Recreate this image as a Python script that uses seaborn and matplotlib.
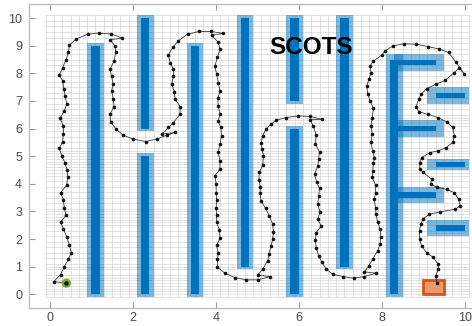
import numpy as np
import pandas as pd
import matplotlib
matplotlib.use("Agg")
import matplotlib.pyplot as plt
from matplotlib.patches import Rectangle
import seaborn as sns

# ---------------- data ----------------
# obstacles: x_lo, x_hi, y_lo, y_hi
obs_xlo = [1.0, 2.2, 2.2, 3.4, 4.6, 5.8, 5.8, 7.0, 8.2, 8.4, 9.3, 8.4, 9.3, 8.4, 9.3]
obs_xhi = [1.2, 2.4, 2.4, 3.6, 4.8, 6.0, 6.0, 7.2, 8.4, 9.3, 10.0, 9.3, 10.0, 9.3, 10.0]
obs_ylo = [0.0, 0.0, 6.0, 0.0, 1.0, 0.0, 7.0, 1.0, 0.0, 8.3, 7.1, 5.9, 4.6, 3.5, 2.3]
obs_yhi = [9.0, 5.0, 10.0, 9.0, 10.0, 6.0, 10.0, 10.0, 8.5, 8.5, 7.3, 6.1, 4.8, 3.7, 2.5]

target_x = [9.0, 9.5]
target_y = [0.0, 0.5]
start_xy = [0.4, 0.4]
eta = 0.2

traj_x = [0.40, 0.10, 0.26, 0.35, 0.45, 0.52, 0.47, 0.41, 0.33, 0.26, 0.39, 0.35, 0.33, 0.26, 0.41,
          0.43, 0.42, 0.37, 0.29, 0.23, 0.31, 0.33, 0.33, 0.25, 0.35, 0.41, 0.37, 0.34, 0.31, 0.23,
          0.31, 0.39, 0.45, 0.47, 0.63, 0.91, 1.18, 1.48, 1.75, 1.45, 1.57, 1.59, 1.55, 1.45, 1.49,
          1.53, 1.49, 1.53, 1.55, 1.45, 1.47, 1.60, 1.77, 2.01, 2.31, 2.58, 2.82, 3.02, 2.71, 2.86,
          2.98, 3.14, 3.14, 3.02, 3.00, 2.94, 2.98, 2.98, 2.90, 2.86, 2.96, 3.10, 3.32, 3.60, 3.88,
          4.17, 3.90, 4.06, 4.10, 4.04, 3.98, 4.02, 4.06, 4.10, 4.05, 4.06, 4.10, 4.06, 4.12, 4.14,
          4.10, 4.06, 4.10, 4.10, 3.98, 4.01, 4.01, 4.02, 4.01, 4.02, 4.02, 4.09, 4.10, 4.02, 4.06,
          4.04, 4.04, 4.22, 4.47, 4.73, 5.01, 5.31, 5.01, 5.13, 5.25, 5.28, 5.33, 5.37, 5.39, 5.37,
          5.29, 5.20, 5.09, 5.07, 5.07, 5.04, 5.05, 5.13, 5.15, 5.12, 5.09, 5.13, 5.21, 5.33, 5.45,
          5.69, 5.99, 6.27, 6.56, 6.27, 6.35, 6.42, 6.40, 6.50, 6.48, 6.46, 6.38, 6.43, 6.50, 6.48,
          6.46, 6.51, 6.46, 6.54, 6.42, 6.40, 6.42, 6.48, 6.56, 6.66, 6.82, 7.06, 7.32, 7.58, 7.86,
          7.58, 7.69, 7.78, 7.90, 7.96, 7.98, 7.96, 7.90, 7.86, 7.85, 7.82, 7.85, 7.85, 7.77, 7.78,
          7.80, 7.82, 7.78, 7.74, 7.77, 7.74, 7.77, 7.80, 7.72, 7.66, 7.64, 7.69, 7.74, 7.72, 7.80,
          8.00, 8.08, 8.28, 8.54, 8.83, 9.12, 9.39, 9.61, 9.78, 9.99, 9.86, 9.75, 9.53, 9.31, 9.08,
          8.95, 8.89, 8.83, 8.89, 9.11, 9.35, 9.57, 9.71, 9.75, 9.71, 9.55, 9.35, 9.16, 8.96, 8.91,
          8.92, 9.00, 9.20, 9.18, 9.33, 9.57, 9.75, 9.85, 9.89, 9.77, 9.40, 9.15, 8.99, 8.94, 8.91,
          8.91, 8.96, 9.08, 9.24, 9.36, 9.36, 9.30, 9.33]
traj_y = [0.40, 0.46, 0.71, 0.99, 1.27, 1.50, 1.79, 2.08, 2.36, 2.60, 2.86, 3.14, 3.42, 3.68, 3.95,
          4.23, 4.49, 4.75, 5.01, 5.28, 5.53, 5.82, 6.08, 6.37, 6.64, 6.88, 7.18, 7.43, 7.73, 7.93,
          8.21, 8.49, 8.76, 9.02, 9.24, 9.42, 9.46, 9.43, 9.28, 9.22, 9.00, 8.76, 8.45, 8.15, 7.89,
          7.61, 7.37, 7.07, 6.80, 6.52, 6.24, 5.98, 5.76, 5.62, 5.53, 5.62, 5.76, 5.86, 5.80, 6.04,
          6.22, 6.52, 6.80, 7.07, 7.34, 7.61, 7.89, 8.15, 8.39, 8.67, 8.94, 9.18, 9.42, 9.52, 9.52,
          9.45, 9.38, 9.12, 8.88, 8.58, 8.27, 7.97, 7.67, 7.37, 7.10, 6.81, 6.53, 6.28, 6.04, 5.74,
          5.44, 5.14, 4.84, 4.53, 4.29, 3.99, 3.68, 3.42, 3.14, 2.88, 2.60, 2.32, 2.02, 1.78, 1.49,
          1.27, 0.99, 0.76, 0.60, 0.52, 0.52, 0.64, 0.69, 0.91, 1.21, 1.45, 1.73, 1.99, 2.26, 2.54,
          2.84, 3.11, 3.38, 3.65, 3.90, 4.14, 4.41, 4.67, 5.01, 5.25, 5.47, 5.74, 5.98, 6.16, 6.30,
          6.40, 6.46, 6.44, 6.34, 6.32, 6.10, 5.76, 5.43, 5.16, 4.89, 4.65, 4.35, 4.07, 3.83, 3.56,
          3.26, 2.98, 2.71, 2.47, 2.23, 1.97, 1.69, 1.39, 1.15, 0.91, 0.72, 0.64, 0.58, 0.64, 0.76,
          0.81, 1.03, 1.27, 1.57, 1.81, 2.09, 2.36, 2.62, 2.90, 3.14, 3.44, 3.68, 3.95, 4.23, 4.47,
          4.75, 4.95, 5.19, 5.50, 5.80, 6.10, 6.40, 6.73, 7.00, 7.25, 7.55, 7.79, 8.03, 8.27, 8.45,
          8.66, 8.82, 9.00, 9.07, 9.06, 8.97, 8.88, 8.76, 8.42, 7.98, 8.20, 8.03, 7.75, 7.61, 7.45,
          7.25, 7.07, 6.80, 6.61, 6.52, 6.40, 6.24, 6.04, 5.74, 5.50, 5.31, 5.19, 5.13, 4.95, 4.75,
          4.53, 4.41, 4.17, 3.99, 3.87, 3.80, 3.68, 3.44, 3.20, 3.08, 2.98, 2.90, 2.72, 2.54, 2.29,
          2.00, 1.75, 1.51, 1.33, 1.09, 0.90, 0.66, 0.42]

x_ticks = [0, 2, 4, 6, 8, 10]
y_ticks = list(range(0, 11))
title_text = "SCOTS"

# ---------------- style ----------------
sns.set_style("white")
plt.rcParams["font.family"] = ["Liberation Sans", "DejaVu Sans"]

DARK_BLUE = "#0072BD"
ORANGE = "#D95319"
GREEN = "#77AC30"

fig = plt.figure(figsize=(4.72, 3.26), dpi=100)
ax = fig.add_axes([29 / 472, 18 / 326, 456.5 / 472, 303.6 / 326])
ax.set_xlim(-0.5, 10.5)
ax.set_ylim(-0.5, 10.5)

# grid of cells
g_lo, g_hi = -0.1, 10.1
for k in range(0, 52):
    v = -0.1 + eta * k
    ax.plot([v, v], [g_lo, g_hi], color="#d4d4d4", lw=0.5, zorder=1)
    ax.plot([g_lo, g_hi], [v, v], color="#d4d4d4", lw=0.5, zorder=1)
extra_h = [0.0, 0.2, 0.4, 0.6, 1.0, 2.6, 2.8, 3.0, 4.4, 4.6, 4.8, 5.0, 5.2, 6.2, 6.4]
for v in extra_h:
    ax.plot([g_lo, g_hi], [v, v], color="#d4d4d4", lw=0.5, zorder=1)


def cell_cover(lo, hi):
    kmin = np.ceil((lo - eta / 2) / eta - 1e-6)
    kmax = np.floor((hi + eta / 2) / eta + 1e-6)
    return kmin * eta - eta / 2, kmax * eta + eta / 2


# obstacles
for xl, xh, yl, yh in zip(obs_xlo, obs_xhi, obs_ylo, obs_yhi):
    cx0, cx1 = cell_cover(xl, xh)
    cy0, cy1 = cell_cover(yl, yh)
    ax.add_patch(Rectangle((cx0, cy0), cx1 - cx0, cy1 - cy0, facecolor=DARK_BLUE,
                           alpha=0.5, edgecolor="none", zorder=2))
for xl, xh, yl, yh in zip(obs_xlo, obs_xhi, obs_ylo, obs_yhi):
    ax.add_patch(Rectangle((xl, yl), xh - xl, yh - yl, facecolor=DARK_BLUE,
                           edgecolor="none", zorder=3))

# target
ax.add_patch(Rectangle((target_x[0], target_y[0]), target_x[1] - target_x[0],
                       target_y[1] - target_y[0], facecolor="#EB9A70",
                       edgecolor=ORANGE, lw=2.0, zorder=3))

# trajectory
df = pd.DataFrame({"x": traj_x, "y": traj_y, "i": range(len(traj_x))})
sns.lineplot(data=df, x="x", y="y", sort=False, estimator=None, color="#3a3a3a",
             lw=0.6, marker="o", markersize=2.6, markeredgewidth=0,
             markerfacecolor="#111111", ax=ax, zorder=5)

# start
ax.scatter([start_xy[0]], [start_xy[1]], s=45, color=GREEN, zorder=6, edgecolors="none")
ax.scatter([start_xy[0]], [start_xy[1]], s=5, color="#111111", zorder=7)

ax.text(6.3, 8.95, title_text, fontsize=17.5, fontweight="bold", color="black",
        ha="center", va="center", zorder=8)

ax.set_xticks(x_ticks)
ax.set_yticks(y_ticks)
ax.set_xlabel("")
ax.set_ylabel("")
ax.tick_params(direction="in", length=4, width=0.8, color="#9a9a9a",
               labelcolor="#4a4a4a", labelsize=9, top=True, right=True,
               bottom=True, left=True, pad=5)
ax.tick_params(axis="x", pad=3)
for s in ax.spines.values():
    s.set_color("#bdbdbd")
    s.set_linewidth(1.0)

fig.savefig("out.png", dpi=100)
